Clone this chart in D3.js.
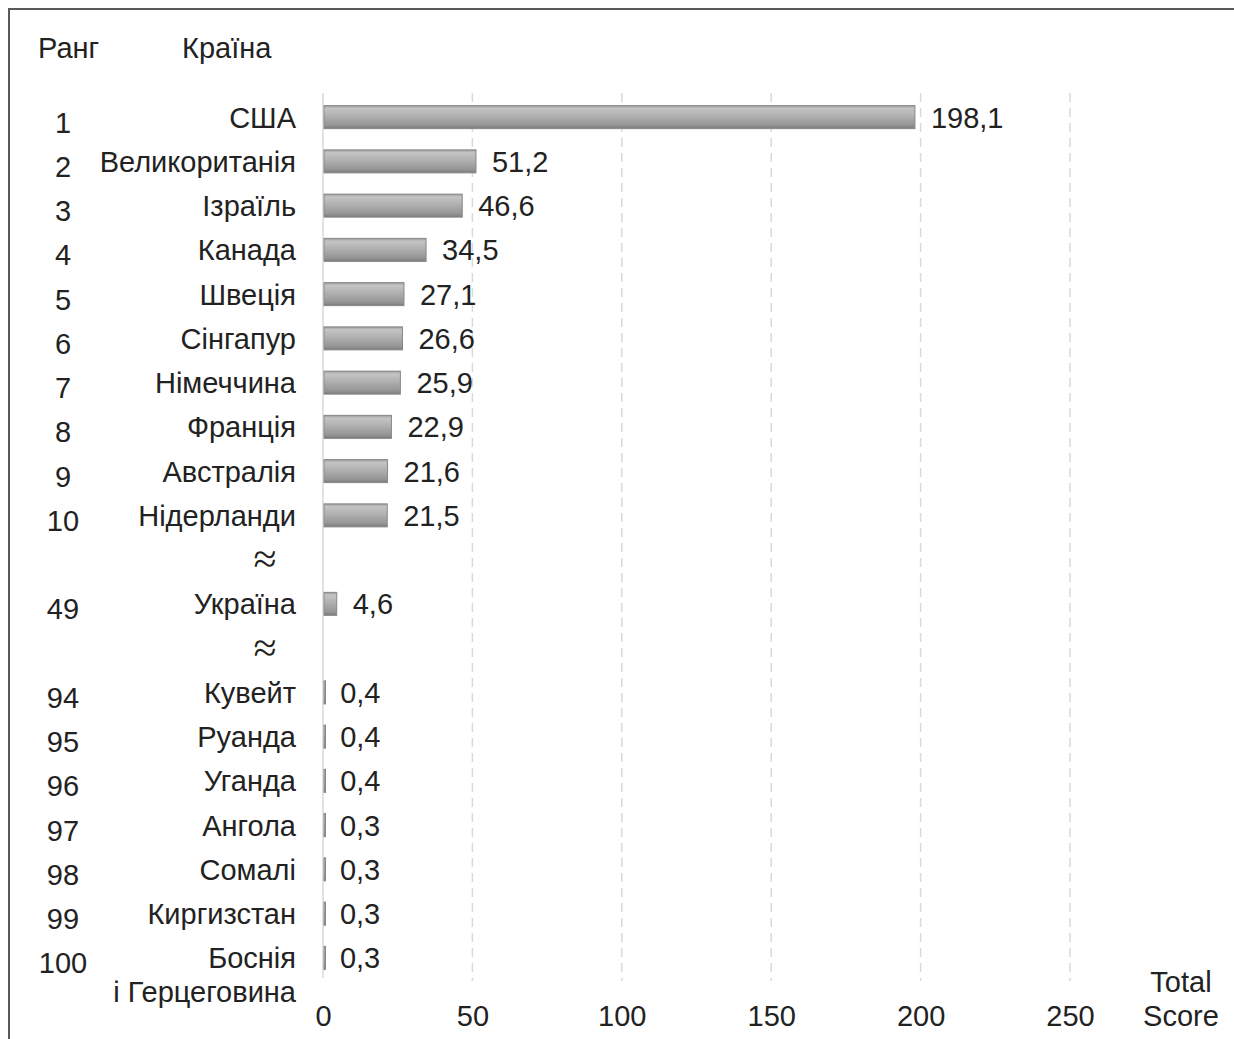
<!DOCTYPE html>
<html>
<head>
<meta charset="utf-8">
<script src="https://cdn.jsdelivr.net/npm/d3@7"></script>
<style>
  body { margin: 0; background: #fff; }
  text { font-family: "Liberation Sans", Arial, sans-serif; fill: #222; }
</style>
</head>
<body>
<script>
// chart data (rows in order; "≈" rows are gaps in the ranking)
var ranks = ["1", "2", "3", "4", "5", "6", "7", "8", "9", "10", "", "49", "", "94", "95", "96", "97", "98", "99", "100"];
var countries = ["США", "Великоританія", "Ізраїль", "Канада", "Швеція", "Сінгапур", "Німеччина", "Франція", "Австралія", "Нідерланди",
  "≈", "Україна", "≈", "Кувейт", "Руанда", "Уганда", "Ангола", "Сомалі", "Киргизстан", "Боснія"];
var values = [198.1, 51.2, 46.6, 34.5, 27.1, 26.6, 25.9, 22.9, 21.6, 21.5, null, 4.6, null, 0.4, 0.4, 0.4, 0.3, 0.3, 0.3, 0.3];
var xTicks = [0, 50, 100, 150, 200, 250];

var width = 1234, height = 1039;
var fontSize = 29;

var rows = countries.map(function(c, i) {
  return { key: "r" + i, rank: ranks[i], country: c, value: values[i] };
});

var svg = d3.select("body").append("svg")
  .attr("width", width)
  .attr("height", height);

// bar gradient (shaded grey like the original)
var defs = svg.append("defs");
var grad = defs.append("linearGradient")
  .attr("id", "barGrad")
  .attr("x1", 0).attr("y1", 0).attr("x2", 0).attr("y2", 1);
[["0%", "#9a9a9a"], ["12%", "#c4c4c4"], ["45%", "#b0b0b0"], ["85%", "#959595"], ["100%", "#7a7a7a"]]
  .forEach(function(s) {
    grad.append("stop").attr("offset", s[0]).attr("stop-color", s[1]);
  });

// frame (only top and left edges visible)
svg.append("path")
  .attr("d", "M9," + height + "V9H" + width)
  .attr("fill", "none")
  .attr("stroke", "#595959")
  .attr("stroke-width", 2);

// scales
var x = d3.scaleLinear().domain([0, 250]).range([323, 1070]);
var y = d3.scaleBand()
  .domain(rows.map(function(d) { return d.key; }))
  .range([95, 980])
  .paddingInner(0.48)
  .paddingOuter(0.24);

// gridlines
svg.append("g")
  .selectAll("line")
  .data(xTicks.slice(1))
  .enter()
  .append("line")
  .attr("x1", function(d) { return x(d); })
  .attr("x2", function(d) { return x(d); })
  .attr("y1", 93)
  .attr("y2", 981)
  .attr("stroke", "#d9d9d9")
  .attr("stroke-width", 1.5)
  .attr("stroke-dasharray", "9,6");

// zero axis line
svg.append("line")
  .attr("x1", x(0)).attr("x2", x(0))
  .attr("y1", 93).attr("y2", 978)
  .attr("stroke", "#d9d9d9")
  .attr("stroke-width", 1.5);

// x axis labels
var xAxis = d3.axisBottom(x).tickValues(xTicks).tickSize(0).tickPadding(0);
var gx = svg.append("g")
  .attr("transform", "translate(0,1005)")
  .call(xAxis);
gx.select(".domain").remove();
gx.selectAll("text")
  .attr("font-size", fontSize)
  .attr("font-family", "Liberation Sans, Arial, sans-serif")
  .attr("fill", "#222")
  .attr("dy", "0.71em");

// bars
var barRows = rows.filter(function(d) { return d.value !== null; });
svg.append("g")
  .selectAll("rect")
  .data(barRows)
  .enter()
  .append("rect")
  .attr("x", x(0) + 1)
  .attr("y", function(d) { return y(d.key); })
  .attr("width", function(d) { return Math.max(x(d.value) - x(0) - 1, 1.5); })
  .attr("height", y.bandwidth())
  .attr("fill", "url(#barGrad)")
  .attr("stroke", "#888")
  .attr("stroke-width", 1);

// value labels
svg.append("g")
  .selectAll("text")
  .data(barRows)
  .enter()
  .append("text")
  .attr("x", function(d) { return x(d.value) + 16; })
  .attr("y", function(d) { return y(d.key) + y.bandwidth() / 2; })
  .attr("dy", "0.36em")
  .attr("font-size", fontSize)
  .text(function(d) { return String(d.value).replace(".", ","); });

// country labels
svg.append("g")
  .selectAll("text")
  .data(rows.filter(function(d) { return d.country !== "≈"; }))
  .enter()
  .append("text")
  .attr("x", 296)
  .attr("y", function(d) { return y(d.key) + y.bandwidth() / 2; })
  .attr("dy", "0.36em")
  .attr("text-anchor", "end")
  .attr("font-size", fontSize)
  .text(function(d) { return d.country; });

// gap markers
svg.append("g")
  .selectAll("text")
  .data(rows.filter(function(d) { return d.country === "≈"; }))
  .enter()
  .append("text")
  .attr("x", 265)
  .attr("y", function(d) { return y(d.key) + y.bandwidth() / 2; })
  .attr("dy", "0.32em")
  .attr("text-anchor", "middle")
  .attr("font-size", 42)
  .style("font-family", "'Liberation Serif', serif")
  .text(function(d) { return d.country; });

// second line for Боснія
svg.append("text")
  .attr("x", 296)
  .attr("y", y("r19") + y.bandwidth() / 2 + 34)
  .attr("dy", "0.36em")
  .attr("text-anchor", "end")
  .attr("font-size", fontSize)
  .text("і Герцеговина");

// rank labels
svg.append("g")
  .selectAll("text")
  .data(rows.filter(function(d) { return d.rank !== ""; }))
  .enter()
  .append("text")
  .attr("x", 63)
  .attr("y", function(d) { return y(d.key) + y.bandwidth() / 2 + 5; })
  .attr("dy", "0.36em")
  .attr("text-anchor", "middle")
  .attr("font-size", fontSize)
  .text(function(d) { return d.rank; });

// column headers
svg.append("text").attr("x", 38).attr("y", 58).attr("font-size", fontSize).text("Ранг");
svg.append("text").attr("x", 182).attr("y", 58).attr("font-size", fontSize).text("Країна");

// axis title
svg.append("text").attr("x", 1181).attr("y", 992).attr("text-anchor", "middle").attr("font-size", fontSize).text("Total");
svg.append("text").attr("x", 1181).attr("y", 1026).attr("text-anchor", "middle").attr("font-size", fontSize).text("Score");
</script>
</body>
</html>
